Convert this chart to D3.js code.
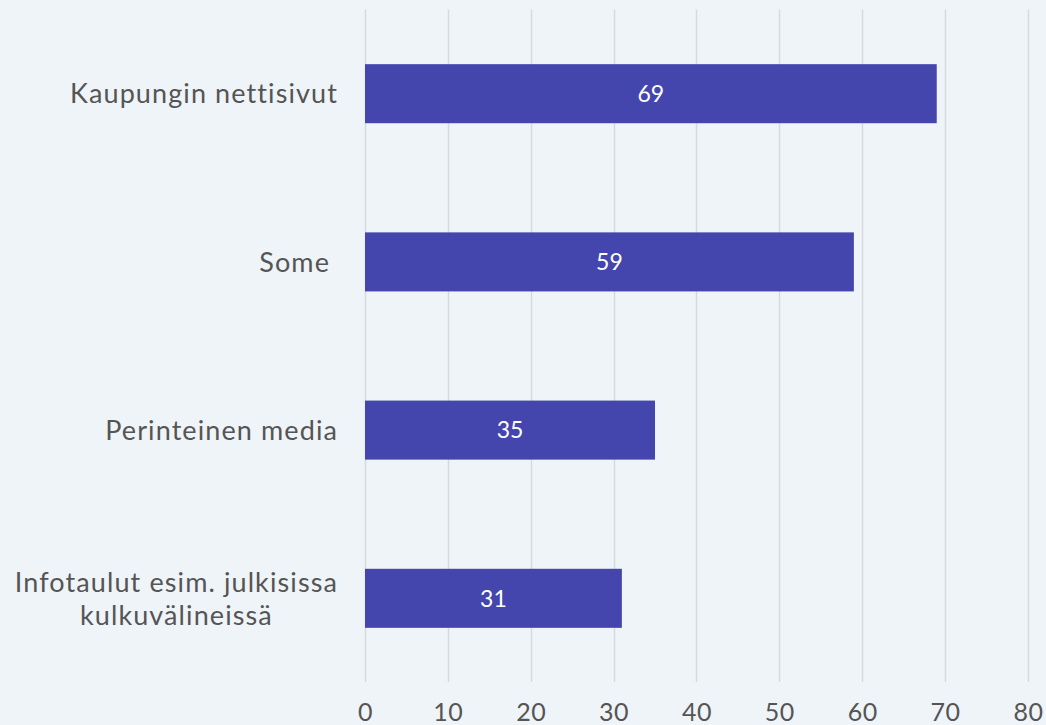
<!DOCTYPE html>
<html>
<head>
<meta charset="utf-8">
<script src="https://cdn.jsdelivr.net/npm/d3@7"></script>
<style>
  body { margin: 0; background: #eff4f8; }
  svg { display: block; font-family: Lato, "Open Sans", sans-serif; }
</style>
</head>
<body>
<div class="chart"></div>
<script>
// values
var categories = [
  ["Kaupungin nettisivut"],
  ["Some"],
  ["Perinteinen media"],
  ["Infotaulut esim. julkisissa", "kulkuvälineissä"]
];
var values = [69, 59, 35, 31];
var ticks = [0, 10, 20, 30, 40, 50, 60, 70, 80];

var width = 1046, height = 725;
var margin = {top: 9.5, right: 18, bottom: 43, left: 365};

var svg = d3.select(".chart").append("svg")
    .attr("width", width)
    .attr("height", height);

svg.append("rect")
    .attr("width", width).attr("height", height)
    .attr("fill", "#eff4f8");

var x = d3.scaleLinear().domain([0, 80]).range([margin.left, margin.left + 8.286 * 80]);
var y = d3.scaleBand()
    .domain(d3.range(categories.length))
    .range([margin.top, height - margin.bottom + 0.5])
    .paddingInner(0.649)
    .paddingOuter(0.325);

// gridlines
svg.append("g").selectAll("line")
    .data(ticks)
  .enter().append("line")
    .attr("x1", function(d) { return Math.round(x(d)) + 0.5; })
    .attr("x2", function(d) { return Math.round(x(d)) + 0.5; })
    .attr("y1", margin.top)
    .attr("y2", height - margin.bottom)
    .attr("stroke", "#d6d9dd")
    .attr("stroke-width", 1.5);

// x axis labels
var xAxis = d3.axisBottom(x).tickValues(ticks).tickSize(0).tickPadding(0);
var gx = svg.append("g")
    .attr("transform", "translate(0," + (height - margin.bottom) + ")")
    .call(xAxis);
gx.select(".domain").remove();
gx.selectAll("text")
    .attr("y", 39)
    .attr("dy", 0)
    .style("font-family", "Lato, sans-serif")
    .style("font-size", "25px")
    .style("letter-spacing", "0.5px")
    .attr("fill", "#555555");

// bars
svg.selectAll(".bar")
    .data(values)
  .enter().append("rect")
    .attr("class", "bar")
    .attr("x", x(0))
    .attr("y", function(d, i) { return y(i); })
    .attr("width", function(d) { return x(d) - x(0); })
    .attr("height", y.bandwidth())
    .attr("fill", "#4446ae");

// value labels
svg.selectAll(".val")
    .data(values)
  .enter().append("text")
    .attr("class", "val")
    .attr("x", function(d) { return (x(0) + x(d)) / 2; })
    .attr("y", function(d, i) { return y(i) + y.bandwidth() / 2; })
    .attr("dy", "0.36em")
    .attr("text-anchor", "middle")
    .attr("fill", "#ffffff")
    .style("font-size", "23px")
    .text(function(d) { return d; });

// category labels (multi-line blocks centred, block right-aligned)
var rightEdge = 338;
var lineH = 33;
categories.forEach(function(lines, i) {
  var cy = y(i) + y.bandwidth() / 2;
  var g = svg.append("g");
  var texts = lines.map(function(line, j) {
    return g.append("text")
      .attr("y", cy + (j - (lines.length - 1) / 2) * lineH)
      .attr("dy", "0.36em")
      .attr("fill", "#555555")
      .style("font-size", "27px")
      .style("letter-spacing", "1.1px")
      .text(line);
  });
  var maxW = d3.max(texts, function(t) { return t.node().getComputedTextLength(); });
  var extra = lines[0] === "Some" ? 8 : 0;
  texts.forEach(function(t) {
    t.attr("text-anchor", "middle").attr("x", rightEdge - extra - maxW / 2);
  });
});
</script>
</body>
</html>
